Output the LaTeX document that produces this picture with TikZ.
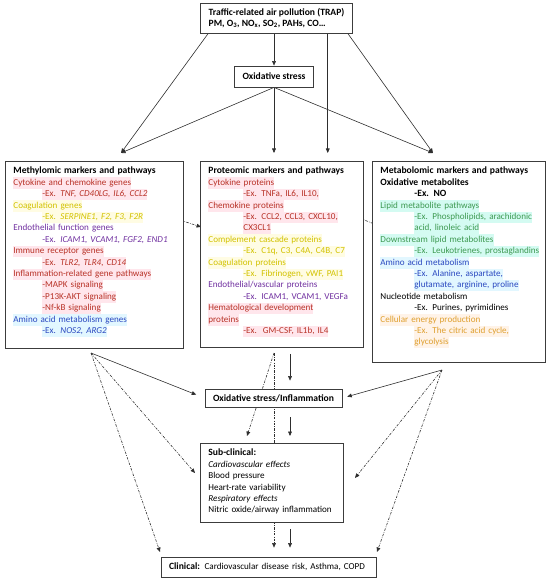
\documentclass[tikz,border=0pt]{standalone}
\usepackage{fontspec}
\setmainfont{Carlito}
\usepackage{xcolor}
\usetikzlibrary{arrows.meta,calc}
\pgfdeclarelayer{back}
\pgfsetlayers{back,main}
\definecolor{frame}{HTML}{3C3C3C}
\definecolor{wire}{HTML}{2E2E2E}
\definecolor{redtx}{HTML}{B83227}
\definecolor{redhl}{HTML}{FFE6EC}
\definecolor{yeltx}{HTML}{D2C200}
\definecolor{yelhl}{HTML}{FFFCE3}
\definecolor{purtx}{HTML}{7030A0}
\definecolor{bluetx}{HTML}{2A48C0}
\definecolor{bluehl}{HTML}{E2F7FF}
\definecolor{grntx}{HTML}{3E9A52}
\definecolor{grnhl}{HTML}{D4FBF2}
\definecolor{orgtx}{HTML}{DFA030}
\definecolor{orghl}{HTML}{FFF3E8}
\newcommand{\hlt}[3]{{\setlength{\fboxsep}{0pt}\colorbox{#1}{\strut\textcolor{#2}{#3}}}}
\newcommand{\ind}[1]{\hspace*{#1bp}}
\newcommand{\hd}[1]{{\fontsize{9.6bp}{11.4bp}\selectfont\bfseries #1}}

\begin{document}
\begin{tikzpicture}[
    x=1bp, y=-1bp,
    font=\fontsize{9.1bp}{11.4bp}\selectfont,
    box/.style={draw=frame, line width=0.8bp, fill=white, inner xsep=8bp, inner ysep=3bp},
    bold/.style={font=\fontsize{9.6bp}{11.4bp}\selectfont\bfseries},
    panel/.style={box, anchor=north west, align=left, inner ysep=4bp, text height=8.5bp},
    arr/.style={draw=wire, line width=0.6bp, -{Triangle[length=4.5bp,width=3.8bp]}},
    dd/.style={arr, dash pattern=on 2.5bp off 1.3bp on 0.7bp off 1.3bp}
]
\useasboundingbox (0,0) rectangle (550,583);

\node[box, bold, align=left, minimum width=147bp, minimum height=30bp] (trap) at (276.5,18)
    {Traffic-related air pollution (TRAP)\\PM, O\textsubscript{3}, NO\textsubscript{x}, SO\textsubscript{2}, PAHs, CO\dots};
\node[box, bold, minimum width=76bp, minimum height=21bp] (oxs) at (274,76.5) {Oxidative stress};

% Omics panels.
\node[panel, text width=162bp, text depth=170.5bp] (methyl) at (5,161) {%
\hd{Methylomic markers and pathways}\\
\hlt{redhl}{redtx}{Cytokine and chemokine genes}\\
\ind{29}\hlt{redhl}{redtx}{-Ex. \textit{TNF, CD40LG, IL6, CCL2}}\\
\hlt{yelhl}{yeltx}{Coagulation genes}\\
\ind{29}\hlt{yelhl}{yeltx}{-Ex. \textit{SERPINE1, F2, F3, F2R}}\\
\textcolor{purtx}{Endothelial function genes}\\
\ind{29}\textcolor{purtx}{-Ex. \textit{ICAM1, VCAM1, FGF2, END1}}\\
\hlt{redhl}{redtx}{Immune receptor genes}\\
\ind{29}\hlt{redhl}{redtx}{-Ex. \textit{TLR2, TLR4, CD14}}\\
\hlt{redhl}{redtx}{Inflammation-related gene pathways}\\
\ind{29}\hlt{redhl}{redtx}{-MAPK signaling}\\
\ind{29}\hlt{redhl}{redtx}{-P13K-AKT signaling}\\
\ind{29}\hlt{redhl}{redtx}{-Nf-kB signaling}\\
\hlt{bluehl}{bluetx}{Amino acid metabolism genes}\\
\ind{29}\hlt{bluehl}{bluetx}{-Ex. \textit{NOS2, ARG2}}};

\node[panel, text width=147bp, text depth=169.5bp] (prot) at (200,161) {%
\hd{Proteomic markers and pathways}\\
\hlt{redhl}{redtx}{Cytokine proteins}\\
\ind{35}\hlt{redhl}{redtx}{-Ex. TNFa, IL6, IL10,}\\
\hlt{redhl}{redtx}{Chemokine proteins}\\
\ind{35}\hlt{redhl}{redtx}{-Ex. CCL2, CCL3, CXCL10,}\\
\ind{35}\hlt{redhl}{redtx}{CX3CL1}\\
\hlt{yelhl}{yeltx}{Complement cascade proteins}\\
\ind{35}\hlt{yelhl}{yeltx}{-Ex. C1q, C3, C4A, C4B, C7}\\
\hlt{yelhl}{yeltx}{Coagulation proteins}\\
\ind{35}\hlt{yelhl}{yeltx}{-Ex. Fibrinogen, vWF, PAI1}\\
\textcolor{purtx}{Endothelial/vascular proteins}\\
\ind{35}\textcolor{purtx}{-Ex. ICAM1, VCAM1, VEGFa}\\
\hlt{redhl}{redtx}{Hematological development}\\
\hlt{redhl}{redtx}{proteins}\\
\ind{35}\hlt{redhl}{redtx}{-Ex.\ \ GM-CSF, IL1b, IL4}};

\node[panel, text width=157bp, text depth=184.5bp] (metab) at (372,161) {%
\hd{Metabolomic markers and pathways}\\
\hd{Oxidative metabolites}\\
\ind{34}\hd{-Ex. NO}\\
\hlt{grnhl}{grntx}{Lipid metabolite pathways}\\
\ind{34}\hlt{grnhl}{grntx}{-Ex. Phospholipids, arachidonic}\\
\ind{34}\hlt{grnhl}{grntx}{acid, linoleic acid}\\
\hlt{grnhl}{grntx}{Downstream lipid metabolites}\\
\ind{34}\hlt{grnhl}{grntx}{-Ex. Leukotrienes, prostaglandins}\\
\hlt{bluehl}{bluetx}{Amino acid metabolism}\\
\ind{34}\hlt{bluehl}{bluetx}{-Ex. Alanine, aspartate,}\\
\ind{34}\hlt{bluehl}{bluetx}{glutamate, arginine, proline}\\
Nucleotide metabolism\\
\ind{34}-Ex. Purines, pyrimidines\\
\hlt{orghl}{orgtx}{Cellular energy production}\\
\ind{34}\hlt{orghl}{orgtx}{-Ex. The citric acid cycle,}\\
\ind{34}\hlt{orghl}{orgtx}{glycolysis}};

% Outcomes.
\node[box, bold, minimum width=137bp, minimum height=18bp] (osi) at (273.5,398) {Oxidative stress/Inflammation};
\node[panel, text width=127bp, text depth=62.5bp] (sub) at (200,443) {%
\hd{Sub-clinical:}\\
\textit{Cardiovascular effects}\\
Blood pressure\\
Heart-rate variability\\
\textit{Respiratory effects}\\
Nitric oxide/airway inflammation};
\node[box, align=left, text width=199bp, minimum height=20bp] (clin) at (268.5,567)
    {\hd{Clinical:} Cardiovascular disease risk, Asthma, COPD};

\coordinate (tleft) at ($(trap.south west)+(8,0)$);
\coordinate (tmid) at ($(trap.south east)+(-25,0)$);
\coordinate (tright) at ($(trap.south east)+(-5,0)$);
\coordinate (lhit) at (121,153);
\coordinate (rhit) at (433,153);
\coordinate (spine) at (290,0);
\coordinate (lfoot) at (91,353);
\coordinate (cfoot) at (274,353);
\coordinate (rfoot) at (442,370);
\coordinate (lsub) at (195,473);
\coordinate (rsub) at (355,478);
\coordinate (csub) at (247,436);
\coordinate (lclin) at (160,552);
\coordinate (rclin) at (377,552);

\begin{pgfonlayer}{back}
% TRAP and oxidative stress into the panels.
\draw[arr] (oxs.north |- trap.south) -- (oxs.north);
\draw[arr] (tleft) -- (lhit);
\draw[arr, shorten >=8bp] (tmid) -- (tmid |- prot.north);
\draw[arr] (tright) -- (rhit);
\draw[arr] (oxs.south) -- (lhit);
\draw[arr, shorten >=8bp] (oxs.south) -- (oxs.south |- prot.north);
\draw[arr] (oxs.south) -- (rhit);

% Between panels.
\draw[dd] ($(methyl.north east)+(-25,52)$) -- ($(prot.north west)+(1,66)$);
\draw[dd] ($(prot.north east)+(-20,51)$) -- ($(metab.north west)+(10,66)$);

% Down to the outcomes.
\draw[arr, shorten >=9bp] (lfoot) -- (osi.west);
\draw[arr, shorten >=5bp] (rfoot) -- (osi.east);
\draw[arr, shorten <=6bp, shorten >=8bp] (prot.south -| spine) -- (osi.north -| spine);
\draw[arr, shorten <=10bp, shorten >=7bp] (osi.south -| spine) -- (sub.north -| spine);
\draw[arr, shorten <=6bp, shorten >=9bp] (sub.south -| spine) -- (clin.north -| spine);
\draw[dd] (lfoot) -- (lsub);
\draw[dd] (lfoot) -- (lclin);
\draw[dd] (rfoot) -- (rsub);
\draw[dd] (rfoot) -- (rclin);
\draw[dd] (cfoot) -- (csub);
\draw[dd, shorten >=9bp] (cfoot) -- (cfoot |- clin.north);
\end{pgfonlayer}
\end{tikzpicture}
\end{document}
